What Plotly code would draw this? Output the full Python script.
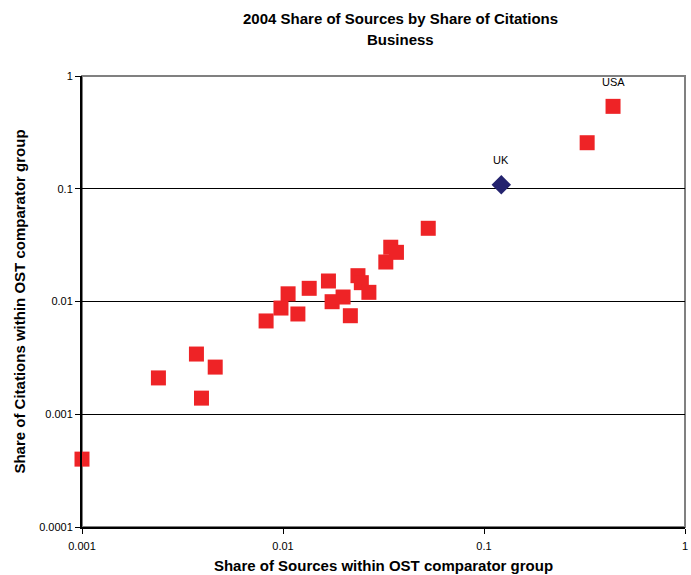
import math
import plotly.graph_objects as go

# Share of sources (x) and share of citations (y) for comparator countries
other_sources = [0.001, 0.0024, 0.00371, 0.00393, 0.0046, 0.00824, 0.00977, 0.0106,
                 0.01186, 0.0135, 0.01683, 0.01755, 0.0199, 0.02163, 0.0236, 0.02453,
                 0.02675, 0.03247, 0.03436, 0.03668, 0.0528, 0.326, 0.4385]
other_citations = [0.0004, 0.0021, 0.00342, 0.00139, 0.00262, 0.00672, 0.00875, 0.0117,
                   0.00775, 0.01309, 0.0152, 0.00996, 0.01096, 0.00748, 0.01694, 0.01469,
                   0.01206, 0.0224, 0.0303, 0.0273, 0.0446, 0.256, 0.538]

uk_sources = [0.1219]
uk_citations = [0.1087]

usa_index = 22

x_ticks = [0.001, 0.01, 0.1, 1]
x_labels = ["0.001", "0.01", "0.1", "1"]
y_ticks = [0.0001, 0.001, 0.01, 0.1, 1]
y_labels = ["0.0001", "0.001", "0.01", "0.1", "1"]

title_lines = ["2004 Share of Sources by Share of Citations", "Business"]

font_family = "Liberation Sans, Arial, sans-serif"

fig = go.Figure()

fig.add_trace(go.Scatter(
    x=other_sources, y=other_citations, mode="markers",
    marker=dict(symbol="square", size=15, color="#ee2326", line=dict(width=0)),
    showlegend=False, cliponaxis=False,
))

fig.add_trace(go.Scatter(
    x=uk_sources, y=uk_citations, mode="markers",
    marker=dict(symbol="diamond", size=15, color="#24236e", line=dict(width=0)),
    showlegend=False, cliponaxis=False,
))

# Country labels (annotation coordinates on log axes are log10 values)
fig.add_annotation(x=math.log10(uk_sources[0]), y=math.log10(uk_citations[0]),
                   xref="x", yref="y", text="UK", showarrow=False, yshift=25,
                   font=dict(family=font_family, size=11, color="black"))
fig.add_annotation(x=math.log10(other_sources[usa_index]),
                   y=math.log10(other_citations[usa_index]),
                   xref="x", yref="y", text="USA", showarrow=False, yshift=24,
                   font=dict(family=font_family, size=11, color="black"))

# Two-line bold title
fig.add_annotation(x=0.528, y=1.1286, xref="paper", yref="paper", showarrow=False,
                   xanchor="center", yanchor="middle", text=f"<b>{title_lines[0]}</b>",
                   font=dict(family=font_family, size=15, color="black"))
fig.add_annotation(x=0.528, y=1.082, xref="paper", yref="paper", showarrow=False,
                   xanchor="center", yanchor="middle", text=f"<b>{title_lines[1]}</b>",
                   font=dict(family=font_family, size=15, color="black"))

# Gray frame on top and right of plot area
fig.add_shape(type="rect", xref="paper", yref="paper", x0=0, y0=0, x1=1, y1=1,
              line=dict(color="#808080", width=2), layer="below")

fig.update_layout(
    width=691, height=575,
    margin=dict(l=82, r=3, t=76, b=48),
    paper_bgcolor="white", plot_bgcolor="white",
    font=dict(family=font_family, color="black"),
    xaxis=dict(
        type="log", range=[-3, 0], tickvals=x_ticks, ticktext=x_labels,
        showgrid=False, zeroline=False,
        showline=True, linecolor="black", linewidth=2,
        ticks="outside", ticklen=5, tickcolor="black",
        ticklabeloverflow="allow", ticklabelstandoff=3,
        tickfont=dict(family=font_family, size=11),
        title=dict(text="<b>Share of Sources within OST comparator group</b>",
                   font=dict(family=font_family, size=15), standoff=9),
    ),
    yaxis=dict(
        type="log", range=[-4, 0], tickvals=y_ticks, ticktext=y_labels,
        showgrid=True, gridcolor="black", gridwidth=1, zeroline=False,
        showline=True, linecolor="black", linewidth=2,
        ticks="outside", ticklen=5, tickcolor="black",
        tickfont=dict(family=font_family, size=11),
        title=dict(text="<b>Share of Citations within OST comparator group</b>",
                   font=dict(family=font_family, size=15), standoff=10),
    ),
)

fig.write_html("out.html")
